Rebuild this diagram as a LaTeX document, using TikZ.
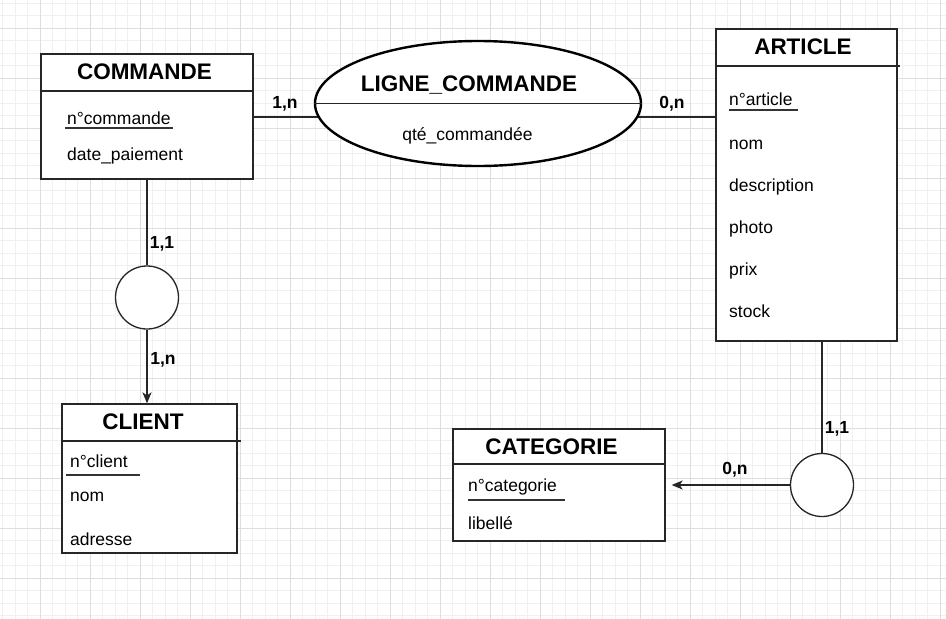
\documentclass[tikz,border=0pt]{standalone}
\usepackage{fontspec}
\setmainfont{Liberation Sans}
\usetikzlibrary{shapes.geometric,arrows.meta,calc}
\pgfdeclarelayer{background}
\pgfsetlayers{background,main}
\tikzset{
  entity/.style={draw=black!85, line width=1.3pt, fill=white, inner sep=0pt},
  assoc/.style={draw=black, line width=2.4pt, fill=white, ellipse, inner sep=0pt},
  relcircle/.style={draw=black!85, line width=1.3pt, fill=white, circle, inner sep=0pt, minimum size=63pt},
  title/.style={font=\fontsize{22.5}{26}\selectfont\bfseries, inner sep=0pt},
  attr/.style={font=\fontsize{17.5}{21}\selectfont, anchor=west, inner sep=0pt, yshift=-1.5pt},
  card/.style={font=\fontsize{17.5}{20}\selectfont\bfseries, inner sep=0pt},
  sep/.style={draw=black!85, line width=1.3pt},
  pkline/.style={draw=black!80, line width=1.3pt},
  conn/.style={draw=black!85, line width=1.3pt},
  arr/.style={conn, -{Stealth[length=11pt,width=9pt,inset=3pt]}},
  minorgrid/.style={draw=black!6, line width=0.8pt},
  majorgrid/.style={draw=black!13, line width=0.8pt},
}
\begin{document}
\begin{tikzpicture}[x=1pt,y=-1pt]
\useasboundingbox (0,0) rectangle (946,619);
\begin{pgfonlayer}{background}
  \fill[white] (0,0) rectangle (946,619);
  \foreach \i in {0,...,75} { \draw[minorgrid] (2.5+12.5*\i,0) -- (2.5+12.5*\i,619); }
  \foreach \i in {0,...,49} { \draw[minorgrid] (0,3+12.5*\i) -- (946,3+12.5*\i); }
  \foreach \i in {0,...,18} { \draw[majorgrid] (40+50*\i,0) -- (40+50*\i,619); }
  \foreach \i in {0,...,11} { \draw[majorgrid] (0,28+50*\i) -- (946,28+50*\i); }
\end{pgfonlayer}

% entities
\node[entity, minimum width=212pt, minimum height=125pt] (cmd) at (147,116.5) {};
\node[entity, minimum width=181pt, minimum height=312pt] (art) at (806.5,185) {};
\node[entity, minimum width=175pt, minimum height=149pt] (cli) at (149.5,478.5) {};
\node[entity, minimum width=212pt, minimum height=112pt] (cat) at (559,485) {};
\node[assoc, minimum width=326pt, minimum height=125pt] (lc) at (478,103.5) {};
\node[relcircle] (c1) at (147,297.5) {};
\node[relcircle] (c2) at (822,485) {};

% header separators
\draw[sep] (cmd.west |- 0,91) -- (cmd.east |- 0,91);
\draw[sep] (art.west |- 0,66) -- ([xshift=2pt]art.east |- 0,66);
\draw[sep] (cli.west |- 0,441) -- ([xshift=3pt]cli.east |- 0,441);
\draw[sep] (cat.west |- 0,464) -- (cat.east |- 0,464);
\draw[draw=black!85, line width=1.5pt] (lc.west) -- (lc.east);

% titles
\node[title] (tcmd) at (144.5,72) {COMMANDE};
\node[title] (tart) at (803,47) {ARTICLE};
\node[title] (tcli) at (143,422) {CLIENT};
\node[title] (tcat) at (551.5,447) {CATEGORIE};
\node[title] (tlc) at (469,85) {LIGNE\_COMMANDE};
\node[font=\fontsize{17.5}{21}\selectfont, inner sep=0pt] (qte) at (467.5,135.5) {qté\_commandée};

% attributes
\node[attr] (a1) at (67,117) {n°commande};
\node[attr] (a2) at (67,154) {date\_paiement};
\draw[pkline] (65,128) -- (173,128);

\node[attr] (b1) at (729,98) {n°article};
\node[attr] (b2) at (729,143) {nom};
\node[attr] (b3) at (729,185) {description};
\node[attr] (b4) at (729,227) {photo};
\node[attr] (b5) at (729,269) {prix};
\node[attr] (b6) at (729,310) {stock};
\draw[pkline] (729,110) -- (798,110);

\node[attr] (d1) at (70,460) {n°client};
\node[attr] (d2) at (70,495) {nom};
\node[attr] (d3) at (70,538) {adresse};
\draw[pkline] (66,475) -- (140,475);

\node[attr] (e1) at (468,485) {n°categorie};
\node[attr] (e2) at (468,522) {libellé};
\draw[pkline] (468,500) -- (565,500);

% connectors
\begin{pgfonlayer}{background}
  \draw[conn] (cmd.east |- 0,117) -- (lc.center |- 0,117);
  \draw[conn] (lc.center |- 0,117) -- (art.west |- 0,117);
\end{pgfonlayer}
\draw[conn] (cmd.south -| c1.north) -- (c1.north);
\draw[arr] (c1.south) -- (c1.south |- cli.north);
\draw[conn] (c2.north |- art.south) -- (c2.north);
\draw[arr] (c2.west) -- ([xshift=6pt]cat.east);

% cardinalities
\node[card] (k1) at (285,104) {1,n};
\node[card] (k2) at (672,104) {0,n};
\node[card] (k3) at (162,244) {1,1};
\node[card] (k4) at (163,360) {1,n};
\node[card] (k5) at (837,429) {1,1};
\node[card] (k6) at (735,470) {0,n};
\end{tikzpicture}
\end{document}
